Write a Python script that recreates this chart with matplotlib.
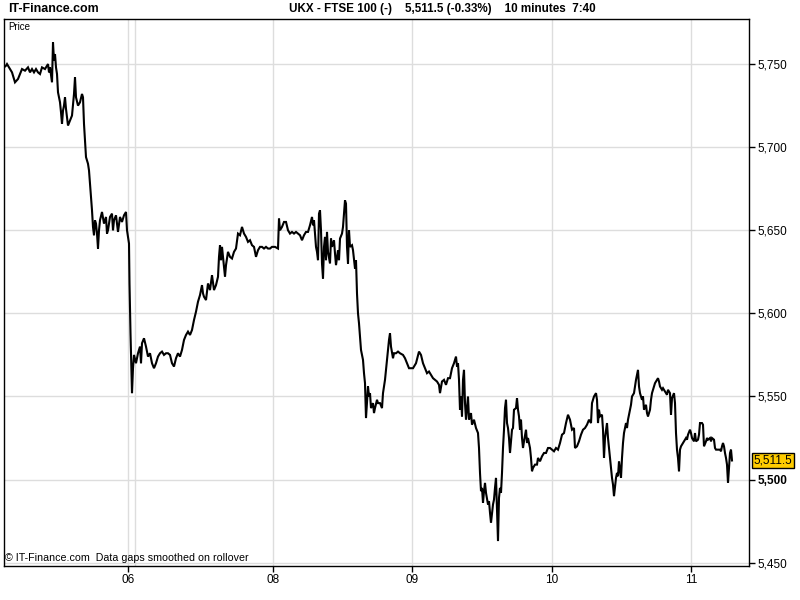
import matplotlib
matplotlib.use("Agg")
import matplotlib.pyplot as plt
import matplotlib.transforms as mtransforms

plt.rcParams['font.family'] = ['Liberation Sans', 'DejaVu Sans']

# 10 minute FTSE 100 prices, time in chart units (one session ~ 140 units)
day05_t = [4, 6, 7, 9, 12, 15, 18, 22, 25, 28, 30, 32, 34, 36, 38, 40, 42, 45, 48, 49, 50, 52, 53, 54, 55, 56, 57, 58,
           60, 61, 62, 63, 64, 65, 66, 68, 70, 72, 74, 75, 76, 78, 80, 82, 83, 84, 85, 86, 88, 89, 90, 91, 92, 93,
           94, 95, 96, 97, 98, 99, 100, 102, 104, 106, 107, 108, 110, 112, 113, 114, 116, 118, 120, 122, 124, 126,
           127, 129]
day05_p = [5748, 5749, 5750, 5748, 5745, 5739, 5741, 5747, 5746, 5748, 5745, 5747, 5745, 5747, 5745, 5744, 5748, 5747,
           5750, 5745, 5748, 5739, 5763, 5752, 5756, 5748, 5744, 5733, 5727, 5721, 5714, 5722, 5725, 5730, 5723, 5713,
           5716, 5719, 5732, 5742, 5730, 5725, 5727, 5732, 5730, 5714, 5704, 5694, 5690, 5686, 5678, 5670, 5662, 5652,
           5647, 5656, 5654, 5648, 5639, 5650, 5656, 5661, 5654, 5658, 5648, 5650, 5658, 5660, 5650, 5656, 5659, 5649,
           5658, 5655, 5659, 5661, 5650, 5642]

day06_t = [129.5, 130, 130.5, 131, 132, 133, 134, 136, 138, 140, 141, 142, 144, 146, 148, 150, 152, 154, 156, 158,
           160, 162, 164, 166, 168, 170, 172, 174, 176, 178, 180, 182, 184, 186, 188, 190, 192, 194, 196, 198, 200,
           202, 203, 204, 206, 208, 210, 212, 214, 216, 218, 219, 220, 221, 222, 224, 225, 226, 228, 230, 232, 234,
           236, 238, 240, 242, 244, 246, 248, 250, 252, 254, 256, 258, 260, 262, 264, 266, 268, 270, 272, 275, 278]
day06_p = [5618, 5602, 5588, 5576, 5552, 5567, 5575, 5570, 5576, 5580, 5570, 5582, 5585, 5580, 5574, 5576, 5570, 5567,
           5570, 5574, 5576, 5577, 5575, 5576, 5576, 5575, 5570, 5568, 5573, 5576, 5574, 5578, 5584, 5587, 5589, 5587,
           5590, 5596, 5601, 5607, 5611, 5617, 5612, 5610, 5608, 5618, 5614, 5623, 5614, 5617, 5622, 5634, 5641, 5632,
           5640, 5628, 5622, 5629, 5637, 5634, 5633, 5637, 5639, 5648, 5647, 5652, 5648, 5646, 5643, 5644, 5641, 5640,
           5634, 5638, 5640, 5640, 5639, 5640, 5639, 5639, 5640, 5640, 5639]

day08_t = [279, 280, 282, 284, 286, 288, 290, 292, 294, 296, 298, 300, 302, 304, 306, 308, 310, 312, 313, 314, 315,
           316, 317, 318, 319, 320, 321, 322, 323, 324, 325, 326, 327, 328, 330, 331, 332, 334, 335, 336, 338, 339,
           340, 342, 343, 345, 346, 347, 348, 349, 350, 352, 353, 355, 356, 357, 358, 359, 361, 363, 364, 365, 366,
           367, 368, 369, 370, 371, 373, 374, 375, 377, 378, 380, 382, 383, 385, 387, 389, 390, 391, 393, 394, 396,
           398, 400, 403, 405, 407, 409, 411]
day08_p = [5657, 5650, 5652, 5655, 5655, 5650, 5648, 5649, 5648, 5649, 5648, 5647, 5644, 5647, 5649, 5649, 5653, 5658,
           5653, 5656, 5648, 5640, 5637, 5632, 5660, 5662, 5650, 5630, 5621, 5640, 5646, 5632, 5649, 5637, 5630, 5645,
           5640, 5644, 5636, 5629, 5638, 5632, 5645, 5648, 5652, 5668, 5666, 5640, 5630, 5650, 5640, 5641, 5638, 5627,
           5632, 5612, 5600, 5594, 5578, 5572, 5564, 5558, 5537, 5546, 5556, 5550, 5552, 5543, 5546, 5540, 5543, 5548,
           5546, 5546, 5543, 5552, 5560, 5572, 5584, 5588, 5580, 5573, 5576, 5576, 5577, 5576, 5575, 5573, 5570, 5567,
           5567]

day09_t = [413, 416, 419, 421, 423, 425, 427, 429, 431, 433, 435, 437, 439, 440, 442, 444, 446, 448, 450, 452, 454,
           456, 457, 458, 459, 460, 461, 462, 463, 464, 465, 466, 467, 468, 469, 471, 472, 474, 476, 478, 479, 480,
           481, 482, 483, 484, 485, 486, 488, 489, 490, 491, 493, 494, 495, 496, 497, 498, 499, 500, 501, 502, 503,
           504, 505, 506, 507, 508, 509, 510, 511, 512, 513, 514, 516, 517, 518, 519, 520, 521, 522, 523, 524, 526,
           527, 528, 529, 530, 531, 532, 533, 535, 537, 538, 540, 542, 544, 546, 548, 550]
day09_p = [5567, 5570, 5577, 5575, 5570, 5567, 5564, 5565, 5563, 5561, 5560, 5559, 5557, 5552, 5559, 5560, 5557, 5561,
           5561, 5567, 5570, 5574, 5568, 5570, 5560, 5542, 5550, 5538, 5560, 5566, 5546, 5536, 5543, 5550, 5536, 5540,
           5533, 5536, 5531, 5528, 5519, 5504, 5493, 5495, 5486, 5493, 5498, 5492, 5485, 5487, 5480, 5474, 5485, 5488,
           5495, 5501, 5481, 5463, 5489, 5495, 5492, 5504, 5519, 5530, 5543, 5548, 5534, 5531, 5525, 5516, 5523, 5530,
           5531, 5542, 5543, 5549, 5542, 5538, 5530, 5536, 5525, 5519, 5523, 5530, 5522, 5525, 5522, 5519, 5513, 5505,
           5507, 5509, 5509, 5513, 5511, 5514, 5516, 5516, 5519, 5519]

day10_t = [552, 554, 556, 558, 560, 562, 564, 566, 568, 570, 572, 574, 575, 577, 579, 581, 583, 585, 587, 589, 591,
           592, 594, 596, 597, 598, 599, 600, 602, 603, 604, 605, 607, 608, 609, 611, 612, 613, 614, 616, 617, 618,
           619, 621, 622, 623, 624, 626, 627, 628, 630, 631, 632, 634, 635, 636, 638, 639, 640, 642, 643, 644, 646,
           647, 648, 650, 651, 652, 654, 655, 656, 658, 659, 660, 662, 663, 664, 666, 667, 668, 670, 671, 672, 674,
           675, 676, 677, 678, 679, 680, 681, 683, 684, 686, 687, 688, 690]
day10_p = [5518, 5517, 5519, 5518, 5522, 5527, 5528, 5534, 5539, 5536, 5530, 5531, 5519, 5520, 5523, 5527, 5530, 5531,
           5533, 5536, 5534, 5546, 5550, 5552, 5548, 5534, 5542, 5538, 5539, 5530, 5513, 5525, 5534, 5525, 5519, 5507,
           5501, 5497, 5490, 5501, 5504, 5502, 5511, 5501, 5513, 5522, 5528, 5534, 5531, 5536, 5542, 5545, 5550, 5552,
           5556, 5560, 5566, 5556, 5552, 5548, 5550, 5542, 5545, 5540, 5538, 5542, 5548, 5552, 5556, 5558, 5559, 5561,
           5559, 5556, 5554, 5555, 5554, 5552, 5551, 5554, 5552, 5539, 5549, 5552, 5546, 5528, 5518, 5513, 5505, 5518,
           5520, 5522, 5523, 5525, 5524, 5527, 5530]

day11_t = [691, 692, 694, 695, 696, 698, 699, 700, 702, 703, 704, 706, 707, 708, 710, 711, 712, 714, 715, 716, 718,
           720, 721, 722, 723, 724, 725, 726, 727, 728, 729, 730, 731, 732]
day11_p = [5528, 5525, 5523, 5528, 5523, 5524, 5527, 5534, 5534, 5533, 5520, 5523, 5525, 5524, 5525, 5523, 5525, 5524,
           5519, 5518, 5518, 5518, 5517, 5520, 5522, 5520, 5516, 5513, 5509, 5498, 5507, 5516, 5518, 5511.5]

tick_t = [128, 273, 412, 552, 691]
tick_labels = ['06', '08', '09', '10', '11']
session_lines = [135]
price_ticks = [5450, 5500, 5550, 5600, 5650, 5700, 5750]
last_price = 5511.5

t = day05_t + day06_t + day08_t + day09_t + day10_t + day11_t
p = day05_p + day06_p + day08_p + day09_p + day10_p + day11_p

fig = plt.figure(figsize=(8, 6), dpi=100)
ax = fig.add_axes([4 / 800, 34 / 600, 745 / 800, 547 / 600])

ax.plot(t, p, color='black', linewidth=1.5, solid_joinstyle='miter')

ax.set_xlim(4, 749)
ax.set_ylim(5448.0, 5777.1)

for v in tick_t + session_lines:
    ax.axvline(v, color='#dddddd', linewidth=1, zorder=0)
for v in price_ticks:
    ax.axhline(v, color='#dddddd', linewidth=1, zorder=0)

ax.set_xticks(tick_t)
ax.set_xticklabels(tick_labels, fontsize=8.5)
ax.yaxis.tick_right()
ax.set_yticks(price_ticks)
ax.set_yticklabels(['{:,}'.format(v) for v in price_ticks], fontsize=8.5)
for lbl, v in zip(ax.get_yticklabels(), price_ticks):
    if v == 5500:
        lbl.set_fontweight('bold')
ax.tick_params(axis='both', direction='out', length=4, width=1, pad=2, colors='black')
for s in ax.spines.values():
    s.set_color('black')
    s.set_linewidth(1)

# current price tag
trans = mtransforms.blended_transform_factory(ax.transAxes, ax.transData)
ax.text(1.006, last_price, '{:,.1f}'.format(last_price), transform=trans, fontsize=8.5,
        va='center', ha='left',
        bbox=dict(boxstyle='square,pad=0.15', facecolor='#ffcc00', edgecolor='black', linewidth=1))

ax.text(0.006, 0.995, 'Price', transform=ax.transAxes, fontsize=7, va='top', ha='left')
ax.text(0.002, 0.006, '\u00a9 IT-Finance.com  Data gaps smoothed on rollover', transform=ax.transAxes,
        fontsize=7.7, va='bottom', ha='left')

fig.text(8 / 800, 1 - 9 / 600, 'IT-Finance.com', fontsize=8.9, fontweight='bold', va='center', ha='left')
fig.text(289 / 800, 1 - 9 / 600, 'UKX - FTSE 100 (-)    5,511.5 (-0.33%)    10 minutes  7:40',
         fontsize=8.4, fontweight='bold', va='center', ha='left')

fig.savefig('out.png', dpi=100, facecolor='white')
